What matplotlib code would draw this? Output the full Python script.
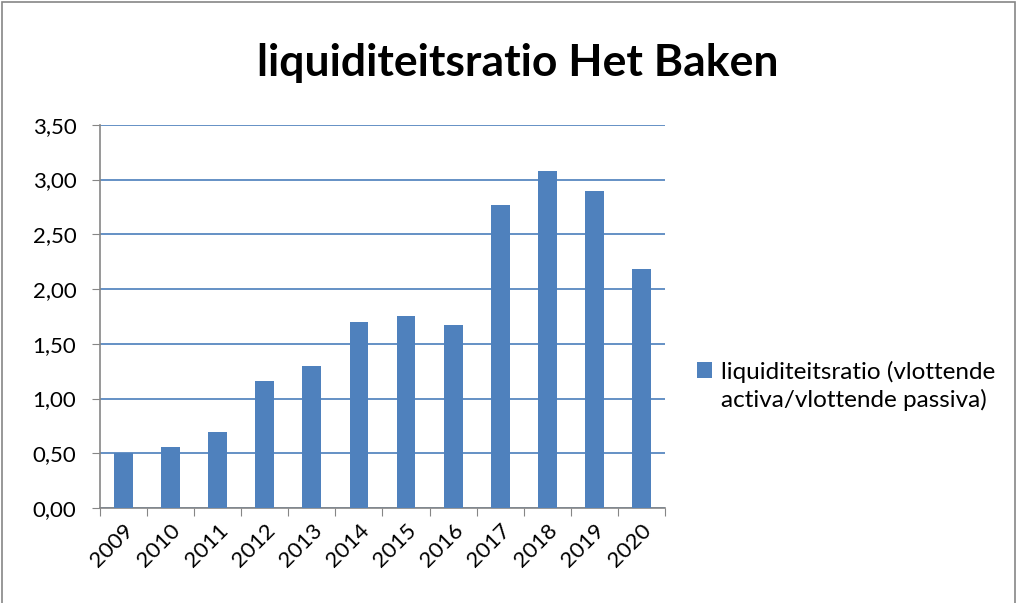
import numpy as np
import matplotlib.pyplot as plt
from matplotlib.patches import Rectangle
from matplotlib.ticker import FixedLocator, NullFormatter

plt.rcParams['font.family'] = ['Lato', 'DejaVu Sans']

# data
years = ['2009', '2010', '2011', '2012', '2013', '2014',
         '2015', '2016', '2017', '2018', '2019', '2020']
ratio = [0.50, 0.56, 0.69, 1.16, 1.30, 1.70, 1.75, 1.67, 2.77, 3.08, 2.90, 2.18]
y_ticks = [0.0, 0.5, 1.0, 1.5, 2.0, 2.5, 3.0, 3.5]
series_name = 'liquiditeitsratio (vlottende\nactiva/vlottende passiva)'

fig = plt.figure(figsize=(10.2, 6.03), dpi=100)
ax = fig.add_axes([0.098, 0.1575, 0.554, 0.6355])

x = np.arange(len(years))
ax.bar(x, ratio, width=0.4, color='#4F81BD', label=series_name, zorder=3)

ax.set_xlim(-0.5, len(years) - 0.5)
ax.set_ylim(0, 3.5)

# y axis with comma decimals
ax.set_yticks(y_ticks)
ax.set_yticklabels([f'{v:.2f}'.replace('.', ',') for v in y_ticks], fontsize=16)
ax.yaxis.grid(True, color='#4A7EBB', linewidth=1.2, zorder=0)

# x ticks between categories, labels at centres
ax.xaxis.set_major_locator(FixedLocator(np.arange(-0.5, len(years), 1.0)))
ax.xaxis.set_major_formatter(NullFormatter())
ax.xaxis.set_minor_locator(FixedLocator(x))
ax.set_xticklabels(years, minor=True, rotation=45, ha='right',
                   rotation_mode='anchor', fontsize=16)
ax.tick_params(axis='x', which='minor', length=0, pad=9)
ax.tick_params(axis='x', which='major', length=6, color='#868686', direction='out')
ax.tick_params(axis='y', length=6, color='#868686', direction='out', pad=11)

for side in ['top', 'right']:
    ax.spines[side].set_visible(False)
for side in ['left', 'bottom']:
    ax.spines[side].set_color('#868686')
    ax.spines[side].set_linewidth(1.2)

fig.text(0.508, 0.895, 'liquiditeitsratio Het Baken', ha='center', va='center',
         fontsize=32, fontweight='bold')

leg = fig.legend(loc='center left', bbox_to_anchor=(0.662, 0.36), frameon=False,
                 fontsize=17.5, handlelength=0.6, handleheight=0.6, handletextpad=0.4)
for t in leg.get_texts():
    t.set_linespacing(1.35)
# put the legend square next to the first text line, like Excel does
for p in leg.get_patches():
    p.set_y(p.get_y() + 11.5)

# outer chart border
fig.patches.append(Rectangle((0.002, -0.01), 0.993, 1.006, transform=fig.transFigure,
                             fill=False, edgecolor='#868686', linewidth=1.2))

fig.savefig('out.png', dpi=100)
